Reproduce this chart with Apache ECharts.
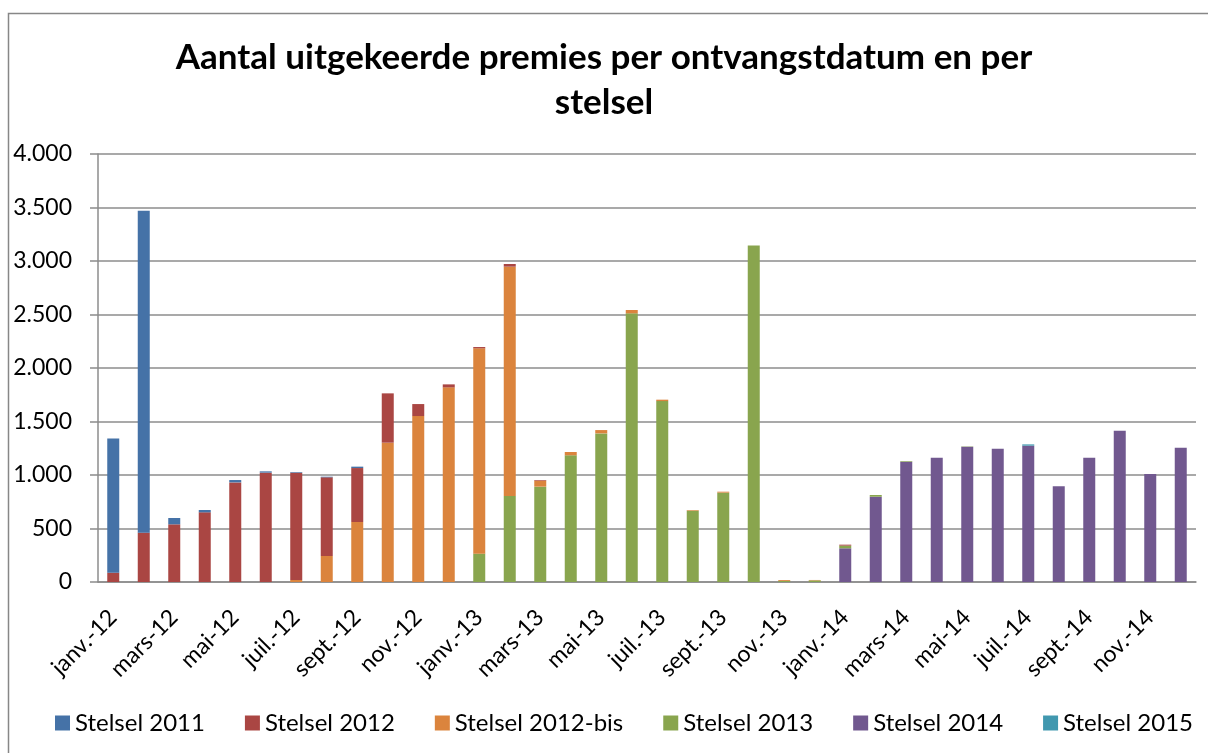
<!DOCTYPE html>
<html>
<head>
<meta charset="utf-8">
<title>Aantal uitgekeerde premies</title>
<script src="https://cdn.jsdelivr.net/npm/echarts@6/dist/echarts.min.js"></script>
<style>
  html, body { margin: 0; padding: 0; background: #fff; }
  #chart { width: 1208px; height: 753px; }
</style>
</head>
<body>
<div id="chart"></div>
<script>
const months = ['janv.', 'févr.', 'mars', 'avr.', 'mai', 'juin', 'juil.', 'août', 'sept.', 'oct.', 'nov.', 'déc.'];
const years = ['12', '13', '14'];
const categories = [];
years.forEach((y) => months.forEach((m) => categories.push(m + '-' + y)));

// values per month, janv.-12 .. déc.-14
const stelsel2011 = [1255, 3009, 59, 22, 22, 12, 6, 6, 13, 0, 0, 0,
  0, 0, 0, 0, 0, 0, 0, 0, 0, 0, 0, 0,
  0, 0, 0, 0, 0, 0, 0, 0, 0, 0, 0, 0];
const stelsel2012 = [87, 461, 539, 651, 931, 1022, 1003, 735, 504, 461, 112, 28,
  12, 25, 6, 0, 0, 0, 0, 0, 0, 0, 0, 0,
  9, 0, 0, 0, 0, 0, 0, 0, 0, 0, 0, 0];
const stelsel2012bis = [0, 0, 0, 0, 0, 0, 19, 243, 561, 1302, 1551, 1819,
  1919, 2143, 56, 31, 31, 31, 13, 6, 9, 0, 8, 4,
  0, 0, 0, 0, 0, 0, 0, 0, 0, 0, 0, 0];
const stelsel2013 = [0, 0, 0, 0, 0, 0, 0, 0, 0, 0, 0, 0,
  265, 804, 891, 1184, 1389, 2511, 1691, 667, 835, 3146, 10, 15,
  25, 16, 6, 0, 3, 0, 0, 0, 0, 0, 0, 0];
const stelsel2014 = [0, 0, 0, 0, 0, 0, 0, 0, 0, 0, 0, 0,
  0, 0, 0, 0, 0, 0, 0, 0, 0, 0, 0, 0,
  315, 797, 1125, 1162, 1265, 1246, 1274, 894, 1162, 1414, 1009, 1255];
const stelsel2015 = [0, 0, 0, 0, 0, 0, 0, 0, 0, 0, 0, 0,
  0, 0, 0, 0, 0, 0, 0, 0, 0, 0, 0, 0,
  0, 0, 0, 0, 0, 0, 12, 0, 0, 0, 0, 0];

// legend order
const seriesDefs = [
  { name: 'Stelsel 2011', data: stelsel2011, color: '#4572A7' },
  { name: 'Stelsel 2012', data: stelsel2012, color: '#AA4643' },
  { name: 'Stelsel 2012-bis', data: stelsel2012bis, color: '#DB843D' },
  { name: 'Stelsel 2013', data: stelsel2013, color: '#89A54E' },
  { name: 'Stelsel 2014', data: stelsel2014, color: '#71588F' },
  { name: 'Stelsel 2015', data: stelsel2015, color: '#4198AF' },
];
// stacking order, bottom to top
const stackOrder = ['Stelsel 2014', 'Stelsel 2013', 'Stelsel 2012-bis', 'Stelsel 2012', 'Stelsel 2011', 'Stelsel 2015'];

const font = 'Lato, "Open Sans", sans-serif';
const gridColor = '#8c8c8c';

const chart = echarts.init(document.getElementById('chart'));

chart.setOption({
  animation: false,
  textStyle: { fontFamily: font, color: '#000' },
  graphic: [{
    type: 'rect',
    shape: { x: 8.5, y: 13.5, width: 1400, height: 900 },
    style: { fill: 'none', stroke: '#878787', lineWidth: 1.5 },
    silent: true,
  }],
  title: {
    text: 'Aantal uitgekeerde premies per ontvangstdatum en per\nstelsel',
    left: 'center',
    top: 30,
    textStyle: {
      fontFamily: font,
      fontSize: 35,
      fontWeight: 'bold',
      lineHeight: 45,
      color: '#000',
    },
  },
  legend: {
    bottom: 13,
    left: 50,
    itemWidth: 15,
    itemHeight: 15,
    itemGap: 40,
    icon: 'rect',
    textStyle: { fontFamily: font, fontSize: 24, color: '#000' },
    data: seriesDefs.map((s) => s.name),
  },
  grid: {
    left: 98,
    right: 12,
    top: 154,
    bottom: 171,
  },
  xAxis: {
    type: 'category',
    data: categories,
    axisLine: { lineStyle: { color: gridColor, width: 1.5 } },
    axisTick: { interval: 1, length: 8, lineStyle: { color: gridColor, width: 1.5 } },
    axisLabel: {
      interval: 1,
      rotate: 45,
      margin: 15,
      verticalAlign: 'top',
      padding: [0, 12, 0, 0],
      fontSize: 23,
      fontFamily: font,
      color: '#000',
    },
  },
  yAxis: {
    type: 'value',
    min: 0,
    max: 4000,
    interval: 500,
    axisLine: { show: true, lineStyle: { color: gridColor, width: 1.5 } },
    axisTick: { show: true, length: 8, lineStyle: { color: gridColor, width: 1.5 } },
    splitLine: { lineStyle: { color: gridColor, width: 1.5 } },
    axisLabel: {
      margin: 26,
      fontSize: 23,
      fontFamily: font,
      color: '#000',
      formatter: (v) => String(v).replace(/\B(?=(\d{3})+(?!\d))/g, '.'),
    },
  },
  series: stackOrder.map((name) => {
    const s = seriesDefs.find((d) => d.name === name);
    return {
      name: s.name,
      type: 'bar',
      stack: 'total',
      barWidth: 12,
      data: s.data,
      itemStyle: { color: s.color },
    };
  }),
});
</script>
</body>
</html>
